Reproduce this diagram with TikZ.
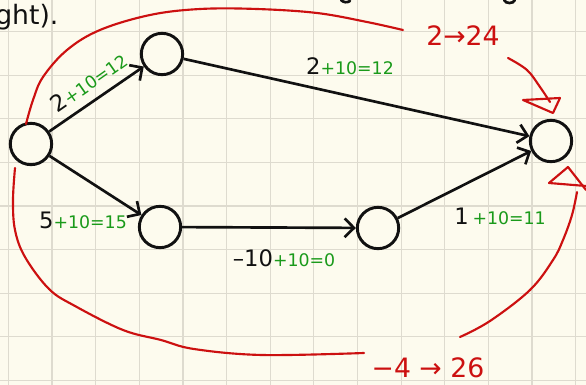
\documentclass[tikz,border=0pt]{standalone}
\usepackage{fontspec}
\setmainfont{DejaVu Sans}
\usepackage{xcolor}
\usetikzlibrary{positioning, arrows.meta, calc}
\definecolor{paper}{HTML}{FDFBEE}
\definecolor{gridc}{HTML}{DEDBCF}
\definecolor{ink}{HTML}{111111}
\definecolor{gain}{HTML}{1A9A1A}
\definecolor{redpen}{HTML}{CC1010}

\newcommand{\wt}[2]{#1{\color{gain}\fontsize{13}{14}\selectfont #2}}

\begin{document}
\begin{tikzpicture}[
  x=0.75pt, y=-0.75pt,
  vertex/.style={circle, draw=ink, line width=2.2pt, minimum size=31pt, inner sep=0pt},
  edge/.style={-{Straight Barb[length=7pt,width=14pt,line width=2pt]}, line width=2pt, draw=ink},
  weight/.style={text=ink, inner sep=1pt, font=\fontsize{17}{18}\selectfont},
  note/.style={text=redpen, inner sep=1pt, font=\fontsize{20}{22}\selectfont},
  pen/.style={draw=redpen, line width=1.6pt, line cap=round, line join=round},
  gridline/.style={draw=gridc, line width=0.9pt},
]
\useasboundingbox (0,0) rectangle (586,385);
\fill[paper] (0,0) rectangle (586,385);
\foreach \k in {0,...,13} \draw[gridline] (8.4+43.64*\k,0) -- ++(0,385);
\foreach \k in {0,...,8} \draw[gridline] (0,31.6+43.6*\k) -- ++(586,0);

% end of the line above
\node[text=ink, inner sep=0pt, anchor=base west, font=\fontsize{20}{22}\selectfont] (prev) at (-5,25) {ght).};
\draw[ink, line width=2pt, line cap=round] (341,0) to[bend right=40] (350,1);
\draw[ink, line width=2pt, line cap=round] (504,0) to[bend right=70] (515,0);

\node[vertex] (s) at (31,144) {};
\node[vertex] (u) at (162,54) {};
\node[vertex] (v) at (160,227) {};
\node[vertex] (w) at (378,228) {};
\node[vertex] (t) at (551,141) {};

\node[weight, rotate=35] (lsu) at (89,82) {\wt{2}{+10=12}};
\node[weight]            (lut) at (350,66) {\wt{2}{+10=12}};
\node[weight]            (lsv) at (83,220) {\wt{5}{+10=15}};
\node[weight]            (lvw) at (284,258) {\wt{--10}{+10=0}};
\node[weight]            (lwt) at (500,216) {\wt{1\,}{+10=11}};

\node[note] (up)  at (463,36)  {2→24};
\node[note] (low) at (428,368) {−4 → 26};

\draw[edge] (s) -- (u);
\draw[edge] (s) -- (v);
\draw[edge] (u) -- (t);
\draw[edge] (v) -- (w);
\draw[edge] (w) -- (t);

\draw[pen] plot[smooth, tension=0.6] coordinates {(26,124) (33,100) (43,77) (67,50) (100,30) (150,15) (200,9) (257,9) (317,13) (367,22) (403,30)};
\draw[pen] plot[smooth, tension=0.6] coordinates {(15,168) (13,200) (15,230) (25,257) (49,289) (75,306) (123,330) (161,340) (194,349) (262,355) (364,353)};
\draw[pen] plot[smooth, tension=0.6] coordinates {(460,337) (490,321) (530,290) (553,260) (563,240) (572,215) (577,192)};
\draw[pen] plot[smooth, tension=0.6] coordinates {(508,58) (527,70) (540,87) (550,102)};
\draw[pen] (523,100) -- (560,98) -- (553,113) -- cycle;
\draw[pen] (549,183) -- (568,167) -- (586,190);
\draw[pen] (549,183) -- (586,186);
\end{tikzpicture}
\end{document}
